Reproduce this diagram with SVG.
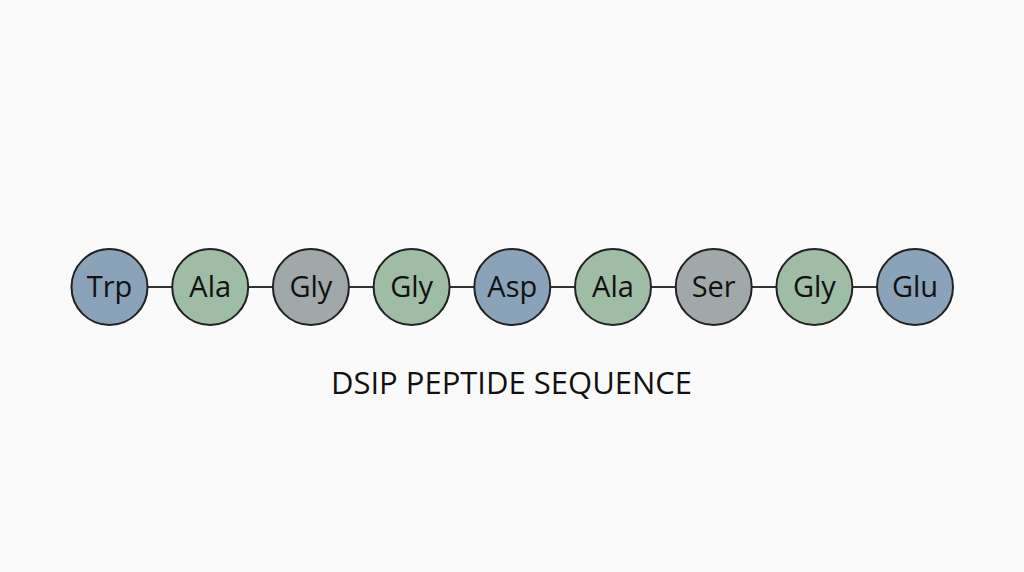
<svg xmlns="http://www.w3.org/2000/svg" width="1024" height="572" viewBox="0 0 1024 572">
<style>
.n{stroke:#222;stroke-width:2}
.b{fill:#8aa3b9}.g{fill:#9ebda4}.s{fill:#a1a8aa}
text{font-family:"Open Sans",sans-serif;fill:#111;text-anchor:middle}
.l{font-size:29px}
</style>
<rect width="1024" height="572" fill="#fafafa"/>
<g id="connectors" stroke="#333" stroke-width="2">
<line x1="109" y1="287" x2="915" y2="287"/>
</g>
<g id="n1"><circle class="n b" cx="109.5" cy="287" r="38"/><text class="l" x="109.5" y="297">Trp</text></g>
<g id="n2"><circle class="n g" cx="210.2" cy="287" r="38"/><text class="l" x="210.2" y="297">Ala</text></g>
<g id="n3"><circle class="n s" cx="310.9" cy="287" r="38"/><text class="l" x="310.9" y="297">Gly</text></g>
<g id="n4"><circle class="n g" cx="411.6" cy="287" r="38"/><text class="l" x="411.6" y="297">Gly</text></g>
<g id="n5"><circle class="n b" cx="512.3" cy="287" r="38"/><text class="l" x="512.3" y="297">Asp</text></g>
<g id="n6"><circle class="n g" cx="613" cy="287" r="38"/><text class="l" x="613" y="297">Ala</text></g>
<g id="n7"><circle class="n s" cx="713.7" cy="287" r="38"/><text class="l" x="713.7" y="297">Ser</text></g>
<g id="n8"><circle class="n g" cx="814.4" cy="287" r="38"/><text class="l" x="814.4" y="297">Gly</text></g>
<g id="n9"><circle class="n b" cx="915" cy="287" r="38"/><text class="l" x="915" y="297">Glu</text></g>
<text x="511.5" y="394" font-size="31">DSIP PEPTIDE SEQUENCE</text>
</svg>
